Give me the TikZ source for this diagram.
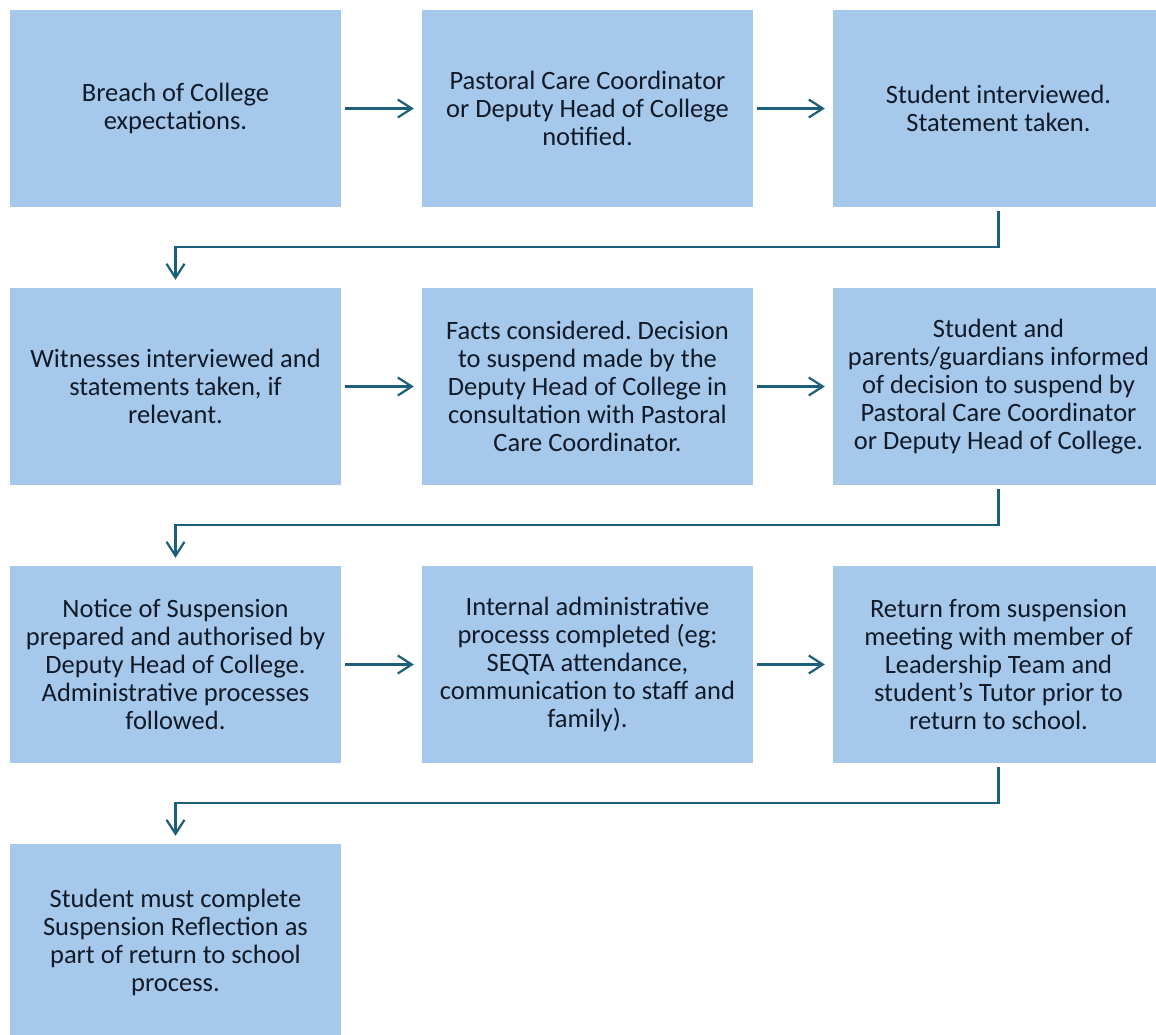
\documentclass[tikz,border=0pt]{standalone}
\usepackage{fontspec}
\setmainfont{Carlito}
\usetikzlibrary{arrows.meta}
\definecolor{boxfill}{HTML}{A6C9EB}
\definecolor{arrowc}{HTML}{1B5F7B}
\definecolor{txt}{HTML}{111A28}
\frenchspacing
\tikzset{
  stepbox/.style={rectangle, fill=boxfill, draw=none, minimum width=331pt, minimum height=197pt,
    inner sep=0pt, align=center, text=txt, font=\fontsize{26.5}{28}\selectfont},
  arr/.style={draw=arrowc, line width=2.2pt, -{Straight Barb[length=14pt,width=18pt,line width=2.2pt]},
    shorten <=4pt, shorten >=8pt}
}
\begin{document}
\begin{tikzpicture}[x=1pt,y=-1pt]
\clip (0,0) rectangle (1156,1034);
\fill[white] (0,0) rectangle (1156,1034);
% row 1
\node[stepbox] (a1) at (175.5,108.5) {Breach of College\\expectations.};
\node[stepbox] (a2) at (587.5,108.5) {Pastoral Care Coordinator\\or Deputy Head of College\\notified.};
\node[stepbox] (a3) at (998.5,108.5) {Student interviewed.\\Statement taken.};
% row 2
\node[stepbox] (b1) at (175.5,386.5) {Witnesses interviewed and\\statements taken, if\\relevant.};
\node[stepbox] (b2) at (587.5,386.5) {Facts considered. Decision\\to suspend made by the\\Deputy Head of College in\\consultation with Pastoral\\Care Coordinator.};
\node[stepbox] (b3) at (998.5,386.5) {Student and\\parents/guardians informed\\of decision to suspend by\\Pastoral Care Coordinator\\or Deputy Head of College.};
% row 3
\node[stepbox] (c1) at (175.5,664.5) {Notice of Suspension\\prepared and authorised by\\Deputy Head of College.\\Administrative processes\\followed.};
\node[stepbox] (c2) at (587.5,664.5) {Internal administrative\\processs completed (eg:\\SEQTA attendance,\\communication to staff and\\family).};
\node[stepbox] (c3) at (998.5,664.5) {Return from suspension\\meeting with member of\\Leadership Team and\\student's Tutor prior to\\return to school.};
% row 4
\node[stepbox] (d1) at (175.5,942.5) {Student must complete\\Suspension Reflection as\\part of return to school\\process.};
% connectors
\draw[arr] (a1) -- (a2);
\draw[arr] (a2) -- (a3);
\draw[arr] (a3.south) -- ++(0,40) -| (b1.north);
\draw[arr] (b1) -- (b2);
\draw[arr] (b2) -- (b3);
\draw[arr] (b3.south) -- ++(0,40) -| (c1.north);
\draw[arr] (c1) -- (c2);
\draw[arr] (c2) -- (c3);
\draw[arr] (c3.south) -- ++(0,40) -| (d1.north);
\end{tikzpicture}
\end{document}
